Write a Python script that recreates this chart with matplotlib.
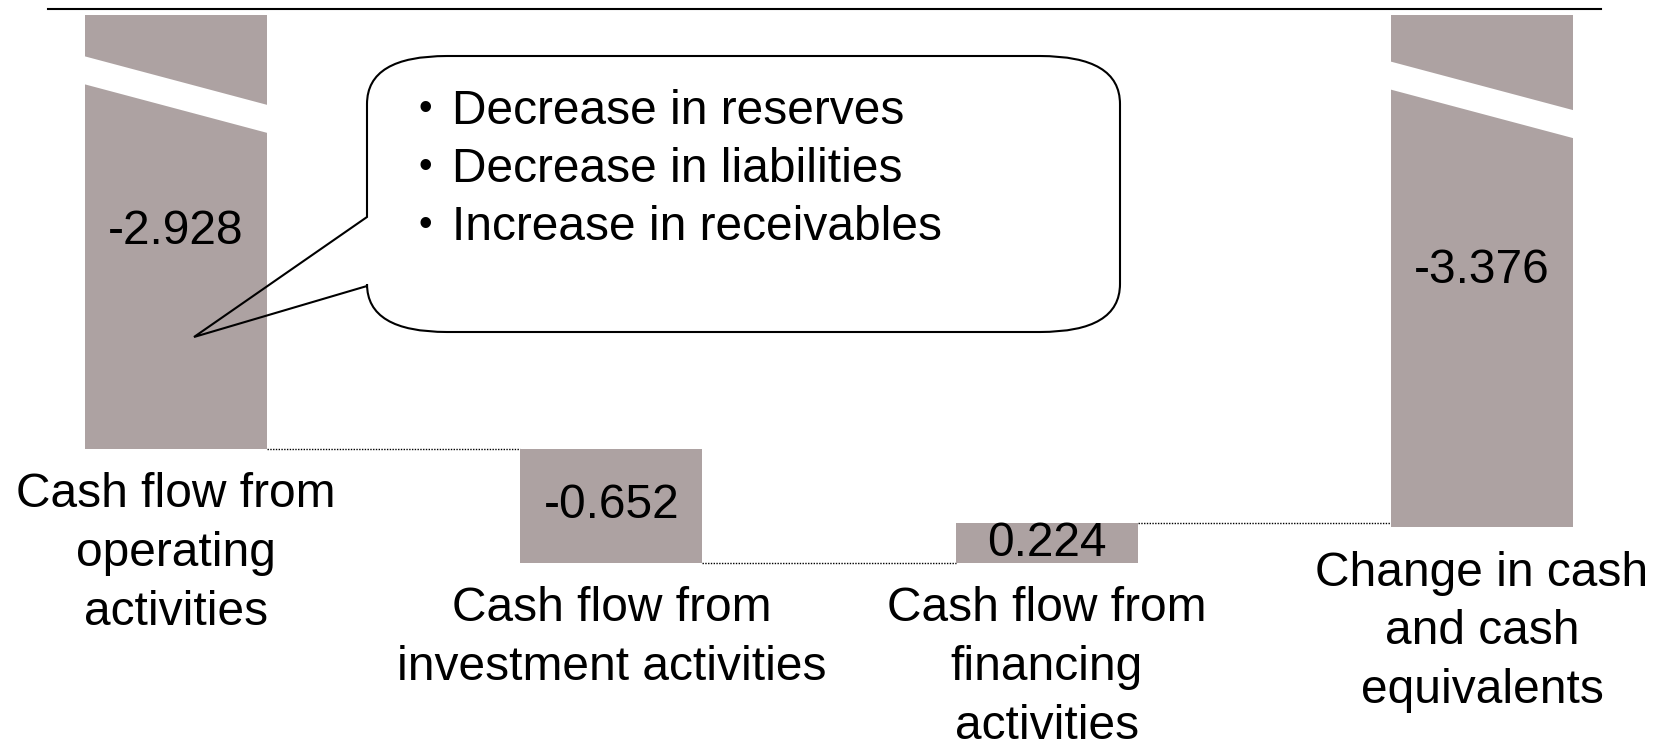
import numpy as np
import matplotlib.pyplot as plt
import matplotlib.transforms as mtransforms
from matplotlib.path import Path
from matplotlib.patches import PathPatch, Polygon
from matplotlib.lines import Line2D

# waterfall data (billions), last bar is the total
categories = ['Cash flow from\noperating\nactivities',
              'Cash flow from\ninvestment activities',
              'Cash flow from\nfinancing\nactivities',
              'Change in cash\nand cash\nequivalents']
values = [-2.928, -0.652, 0.224, -3.376]
value_labels = ['-2.928', '-0.652', '0.224', '-3.376']
is_total = [False, False, False, True]
notes = ['Decrease in reserves', 'Decrease in liabilities', 'Increase in receivables']

plt.rcParams['font.family'] = ['Liberation Sans', 'DejaVu Sans']

W, H = 1663, 755
bar_color = '#ada2a2'
fs = 34.5
bar_w = 0.418
y_top = -0.45      # axis is cut here, tall bars get a break
break_at = -0.68   # where the white slanted band starts on tall bars

fig = plt.figure(figsize=(W / 100, H / 100), dpi=100)
ax = fig.add_axes([0, 0, 1, (H - 15) / H])
ax.set_xlim(-0.4043, 3.4158)
ax.set_ylim(-4.679, y_top)
ax.axis('off')

# image-pixel transform (y down) for the slide decorations
px = mtransforms.Affine2D().scale(1 / W, -1 / H).translate(0, 1) + fig.transFigure

x = np.arange(len(values))
running = 0.0
levels = []
for i, v in enumerate(values):
    bottom = 0.0 if is_total[i] else running
    ax.bar(x[i], v, bottom=bottom, width=bar_w, color=bar_color, zorder=2)
    hi = min(max(bottom, bottom + v), y_top)
    lo = min(bottom, bottom + v)
    if not is_total[i]:
        running += v
    levels.append(running)

    # white slanted band to show the bar is broken
    if max(bottom, bottom + v) > y_top:
        b0 = break_at - (0.03 if is_total[i] else 0.0)
        l, r = x[i] - bar_w / 2 - 0.01, x[i] + bar_w / 2 + 0.01
        band = Polygon([[l, b0], [r, b0 - 0.29],
                        [r, b0 - 0.45], [l, b0 - 0.16]],
                       closed=True, fc='white', ec='none', zorder=3)
        ax.add_patch(band)
        hi = y_top

    ax.text(x[i], (hi + lo) / 2, value_labels[i], ha='center', va='center',
            fontsize=fs, zorder=4)
    ax.annotate(categories[i], xy=(x[i], lo), xytext=(0, -17),
                textcoords='offset points', ha='center', va='top',
                fontsize=fs, linespacing=1.39)

# dotted connectors between bars
for i in range(len(values) - 1):
    ax.plot([x[i] + bar_w / 2, x[i + 1] - bar_w / 2], [levels[i], levels[i]],
            color='black', lw=1, ls=(0, (1, 1)), zorder=1)

# line across the top of the slide
fig.add_artist(Line2D([48, 1601], [9, 9], transform=px, color='black', lw=1.5))

# callout box with pointer to the operating cash flow bar
L, R, T, B = 367, 1120, 56, 332
rx, ry = 80, 48
verts = [(L + rx, T), (R - rx, T), (R, T), (R, T + ry), (R, B - ry), (R, B),
         (R - rx, B), (L + rx, B), (L, B), (L, B - ry), (L, 286), (194, 337),
         (L, 217), (L, T + ry), (L, T), (L + rx, T)]
codes = [Path.MOVETO, Path.LINETO, Path.CURVE3, Path.CURVE3, Path.LINETO,
         Path.CURVE3, Path.CURVE3, Path.LINETO, Path.CURVE3, Path.CURVE3,
         Path.LINETO, Path.LINETO, Path.LINETO, Path.LINETO, Path.CURVE3,
         Path.CURVE3]
fig.add_artist(PathPatch(Path(verts, codes), transform=px, fill=False,
                         ec='black', lw=1.5))

for i, note in enumerate(notes):
    y = 124 + 58 * i
    fig.text(418, y - 4, '\u2022', transform=px, fontsize=28, va='baseline')
    fig.text(452, y, note, transform=px, fontsize=fs, va='baseline')

fig.savefig('out.png', dpi=100)
